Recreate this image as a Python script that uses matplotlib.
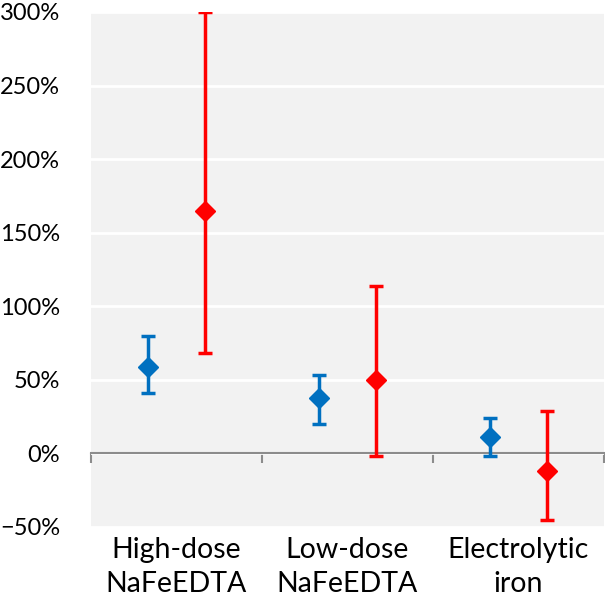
import matplotlib.pyplot as plt
from matplotlib.ticker import PercentFormatter
from matplotlib.transforms import blended_transform_factory

categories = ["High-dose\nNaFeEDTA", "Low-dose\nNaFeEDTA", "Electrolytic\niron"]

blue_mid = [59, 38, 11]
blue_low = [41, 20, -2]
blue_high = [80, 53, 24]

red_mid = [165, 50, -12]
red_low = [68, -2, -45]
red_high = [300, 114, 29]

blue = "#0070C0"
red = "#FF0000"

plt.rcParams['font.family'] = ['Lato', 'DejaVu Sans']

fig = plt.figure(figsize=(6.05, 6.02), dpi=100)
ax = fig.add_axes([0.150, 0.1246, 0.848, 0.8555])
ax.set_facecolor("#F2F2F2")

x = range(len(categories))
off = 1 / 6

def series(mid, low, high, color, shift):
    xs = [i + shift for i in x]
    err = [[m - l for m, l in zip(mid, low)], [h - m for m, h in zip(mid, high)]]
    ax.errorbar(xs, mid, yerr=err, fmt="D", color=color, ecolor=color,
                elinewidth=2.5, capsize=5, capthick=2.5, markersize=10, zorder=3)

series(blue_mid, blue_low, blue_high, blue, -off)
series(red_mid, red_low, red_high, red, off)

ax.set_xlim(-0.5, 2.5)
ax.set_ylim(-50, 300)
ax.set_yticks(range(-50, 301, 50))
ax.yaxis.set_major_formatter(PercentFormatter(decimals=0))
ax.grid(axis="y", color="white", linewidth=2)
ax.set_axisbelow(True)

for s in ["top", "right", "left"]:
    ax.spines[s].set_visible(False)
ax.spines["bottom"].set_position(("data", 0))
ax.spines["bottom"].set_color("#8C8C8C")
ax.spines["bottom"].set_linewidth(1.5)
ax.spines["bottom"].set_zorder(2)

ax.set_xticks([-0.5, 0.5, 1.5, 2.5])
ax.set_xticklabels([])
ax.tick_params(axis="x", direction="out", length=7, width=1.5, color="#8C8C8C")
ax.tick_params(axis="y", length=0, labelsize=17, pad=22)

trans = blended_transform_factory(ax.transData, ax.transAxes)
for i, lab in enumerate(categories):
    ax.text(i, -0.02, lab, transform=trans, ha="center", va="top",
            fontsize=20.5, linespacing=1.35)

fig.savefig("out.png", dpi=100)
